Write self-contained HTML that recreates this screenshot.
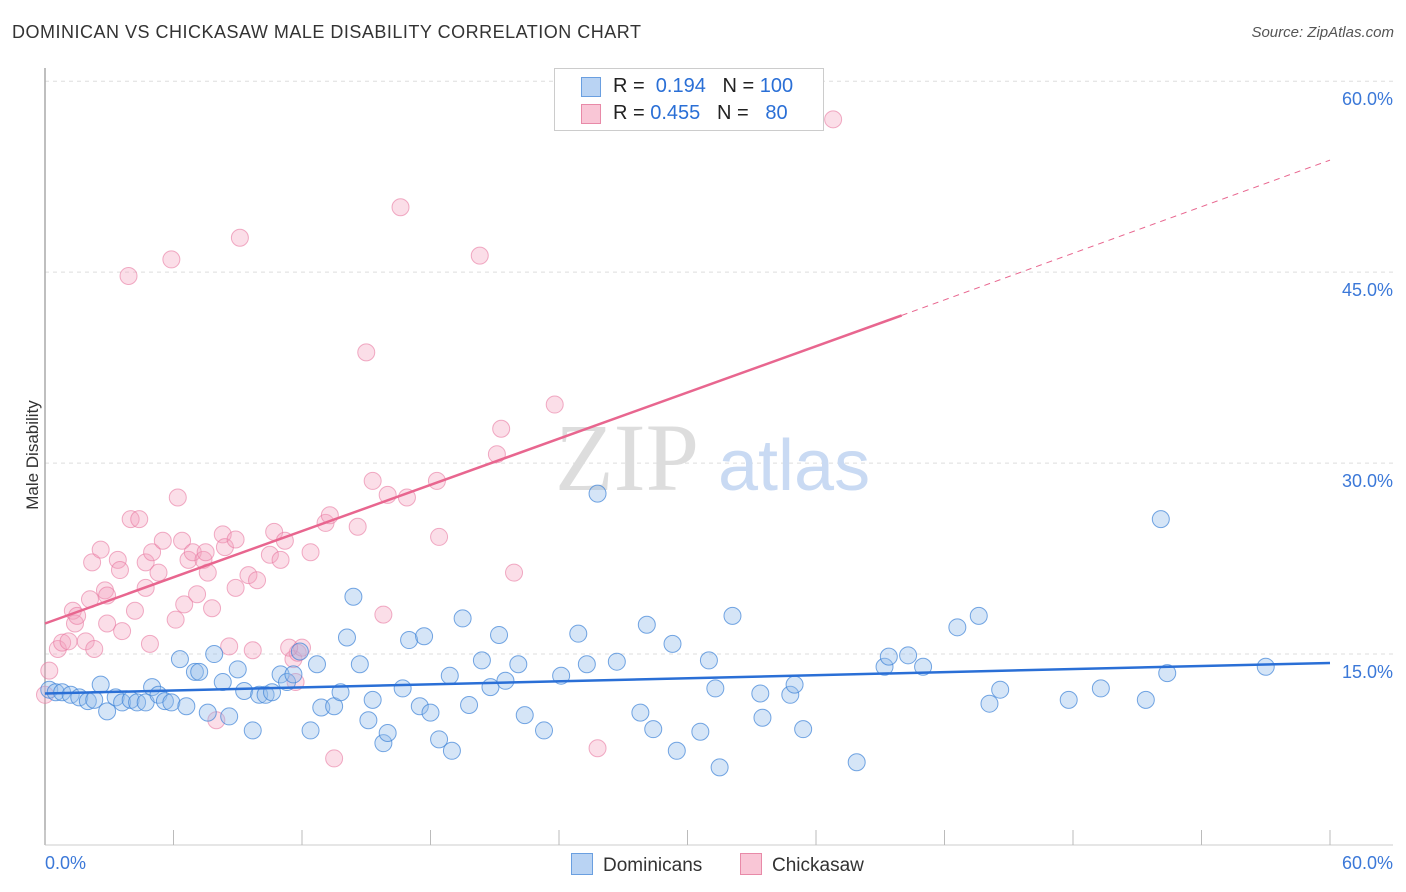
<!DOCTYPE html>
<html><head><meta charset="utf-8"><style>
body{margin:0;background:#fff;font-family:"Liberation Sans",sans-serif;}
#wrap{position:relative;width:1406px;height:892px;overflow:hidden;}
.t{position:absolute;white-space:nowrap;}
</style></head><body>
<div id="wrap">
<div class="t" style="left:12px;top:22px;font-size:18px;letter-spacing:0.5px;color:#333;">DOMINICAN VS CHICKASAW MALE DISABILITY CORRELATION CHART</div>
<div class="t" style="right:12px;top:24px;font-size:15px;color:#555;font-style:italic;">Source: ZipAtlas.com</div>
<div class="t" style="left:-22px;top:445px;font-size:17px;color:#333;transform:rotate(-90deg);">Male Disability</div>
<svg id="svg" width="1406" height="892" style="position:absolute;left:0;top:0"></svg>
</div>
<script>
const yTicks=[15,30,45,60];
const xTickLabels=["0.0%","60.0%"];
const blueX=[0.2,0.5,0.8,1.2,1.6,2.0,2.3,2.6,2.9,3.3,3.6,4.0,4.3,4.7,5.0,5.3,5.6,5.9,6.3,6.6,7.0,7.2,7.6,7.9,8.3,8.6,9.0,9.3,9.7,10.0,10.3,10.6,11.0,11.3,11.6,11.9,12.4,12.7,12.9,13.5,13.8,14.1,14.4,14.7,15.1,15.3,15.8,16.0,16.7,17.0,17.5,17.7,18.0,18.4,18.9,19.0,19.5,19.8,20.4,20.8,21.2,21.5,22.1,22.4,23.3,24.1,24.9,25.3,25.8,26.7,27.8,28.1,28.4,29.3,29.5,30.6,31.0,31.3,31.5,32.1,33.4,33.5,34.8,35.0,35.4,37.9,39.2,39.4,40.3,41.0,42.6,43.6,44.1,44.6,47.8,49.3,51.4,52.1,52.4,57.0];
const blueY=[12.2,12.0,12.0,11.8,11.6,11.3,11.4,12.6,10.5,11.6,11.2,11.4,11.2,11.2,12.4,11.8,11.3,11.2,14.6,10.9,13.6,13.6,10.4,15.0,12.8,10.1,13.8,12.1,9.0,11.8,11.8,12.0,13.4,12.8,13.4,15.2,9.0,14.2,10.8,10.9,12.0,16.3,19.5,14.2,9.8,11.4,8.0,8.8,12.3,16.1,10.9,16.4,10.4,8.3,13.3,7.4,17.8,11.0,14.5,12.4,16.5,12.9,14.2,10.2,9.0,13.3,16.6,14.2,27.6,14.4,10.4,17.3,9.1,15.8,7.4,8.9,14.5,12.3,6.1,18.0,11.9,10.0,11.8,12.6,9.1,6.5,14.0,14.8,14.9,14.0,17.1,18.0,11.1,12.2,11.4,12.3,11.4,25.6,13.5,14.0];
const pinkX=[0.2,0.6,0.8,1.1,1.3,1.4,1.5,1.9,2.2,2.3,2.6,2.8,2.9,2.9,3.4,3.5,3.6,3.9,4.0,4.2,4.4,4.7,4.7,4.9,5.0,5.3,5.5,5.9,6.1,6.2,6.4,6.5,6.7,6.9,7.1,7.4,7.5,7.6,7.8,8.0,8.3,8.4,8.6,8.9,8.9,9.1,9.5,9.7,9.9,10.5,10.7,11.0,11.2,11.6,11.8,12.0,12.4,13.1,13.3,13.5,14.6,15.0,15.3,15.8,16.0,16.6,16.9,18.3,18.4,20.3,21.1,21.3,21.9,23.8,25.8,36.8,0.0,11.7,2.1,11.4];
const pinkY=[13.7,15.4,15.9,16.0,18.4,17.4,18.0,16.0,22.2,15.4,23.2,20.0,19.6,17.4,22.4,21.6,16.8,44.7,25.6,18.4,25.6,22.2,20.2,15.8,23.0,21.4,23.9,46.0,17.7,27.3,23.9,18.9,22.4,23.0,19.7,22.4,23.0,21.4,18.6,9.8,24.4,23.4,15.6,24.0,20.2,47.7,21.2,15.3,20.8,22.8,24.6,22.4,23.9,14.6,15.1,15.5,23.0,25.3,25.9,6.8,25.0,38.7,28.6,18.1,27.5,50.1,27.3,28.6,24.2,46.3,30.7,32.7,21.4,34.6,7.6,57.0,11.8,12.8,19.3,15.5];
const trendBlue=[0,11.9,60,14.3];
const trendPink=[0,17.4,40,41.6,60,53.8];
const svg=document.getElementById('svg');const NS='http://www.w3.org/2000/svg';
const X=v=>45+v/60*1285, Y=v=>845-v*12.73;
function mk(tag,at,parent){const e=document.createElementNS(NS,tag);for(const k in at)e.setAttribute(k,at[k]);(parent||svg).appendChild(e);return e;}
yTicks.forEach(v=>{const l=mk('line',{x1:45,x2:1393,y1:Y(v),y2:Y(v),stroke:'#ddd','stroke-dasharray':'4,4'});


const t=mk('text',{x:1393,y:Y(v)+24,'text-anchor':'end','font-size':18,fill:'#3b78d8','font-family':'Liberation Sans, sans-serif'});t.textContent=v.toFixed(1)+'%';

});
mk('line',{x1:45,x2:45,y1:68,y2:845,stroke:'#aaa','stroke-width':1.5});
mk('line',{x1:45,x2:1393,y1:845,y2:845,stroke:'#ccc'});
for(let i=0;i<=10;i++){mk('line',{x1:X(i*6),x2:X(i*6),y1:830,y2:845,stroke:'#bbb'});}
xTickLabels.forEach((s,i)=>{const t=mk('text',{x:i?1393:45,y:869,'text-anchor':i?'end':'start','font-size':18,fill:'#3b78d8','font-family':'Liberation Sans, sans-serif'});t.textContent=s;

});
const wm=mk('text',{x:555,y:490,'font-size':96,fill:'#ddd','font-family':'Liberation Serif, serif'});wm.textContent='ZIP';


const wm2=mk('text',{x:718,y:490,'font-size':72,fill:'#c9daf3','font-family':'Liberation Sans, sans-serif'});wm2.textContent='atlas';


pinkX.forEach((v,i)=>{const c=mk('circle',{cx:X(v),cy:Y(pinkY[i]),r:8.5,fill:'rgba(244,160,188,0.35)',stroke:'rgba(232,120,160,0.6)','stroke-width':1});

});
blueX.forEach((v,i)=>{const c=mk('circle',{cx:X(v),cy:Y(blueY[i]),r:8.5,fill:'rgba(150,190,235,0.4)',stroke:'rgba(60,130,215,0.7)','stroke-width':1});

});
const tb=mk('line',{x1:X(trendBlue[0]),y1:Y(trendBlue[1]),x2:X(trendBlue[2]),y2:Y(trendBlue[3]),stroke:'#2a6fd6','stroke-width':2.5});


const tp=mk('line',{x1:X(trendPink[0]),y1:Y(trendPink[1]),x2:X(trendPink[2]),y2:Y(trendPink[3]),stroke:'#e8668f','stroke-width':2.5});


const td=mk('line',{x1:X(trendPink[2]),y1:Y(trendPink[3]),x2:X(trendPink[4]),y2:Y(trendPink[5]),stroke:'#e8668f','stroke-width':1,'stroke-dasharray':'6,5'});


</script>
<div style="position:absolute;left:554px;top:68px;width:268px;height:61px;border:1px solid #ccc;background:#fff;font-size:20px;color:#222;">
<div style="position:absolute;left:26px;top:8px;width:18px;height:18px;background:#b9d3f3;border:1px solid #6a9fe0;"></div>
<div class="t" style="left:58px;top:6px;">R = <span style="color:#2a6fd6">&nbsp;0.194</span>&nbsp;&nbsp;&nbsp;N = <span style="color:#2a6fd6">100</span></div>
<div style="position:absolute;left:26px;top:35px;width:18px;height:18px;background:#f9c6d6;border:1px solid #e88aa8;"></div>
<div class="t" style="left:58px;top:33px;">R = <span style="color:#2a6fd6">0.455</span>&nbsp;&nbsp;&nbsp;N = <span style="color:#2a6fd6">&nbsp;&nbsp;80</span></div>
</div>
<div style="position:absolute;left:571px;top:853px;font-size:19px;color:#333;">
<span style="display:inline-block;width:20px;height:20px;background:#b9d3f3;border:1px solid #6a9fe0;vertical-align:-4px;margin-right:10px;"></span>Dominicans</div>
<div style="position:absolute;left:740px;top:853px;font-size:19px;color:#333;">
<span style="display:inline-block;width:20px;height:20px;background:#f9c6d6;border:1px solid #e88aa8;vertical-align:-4px;margin-right:10px;"></span>Chickasaw</div>
</body></html>
